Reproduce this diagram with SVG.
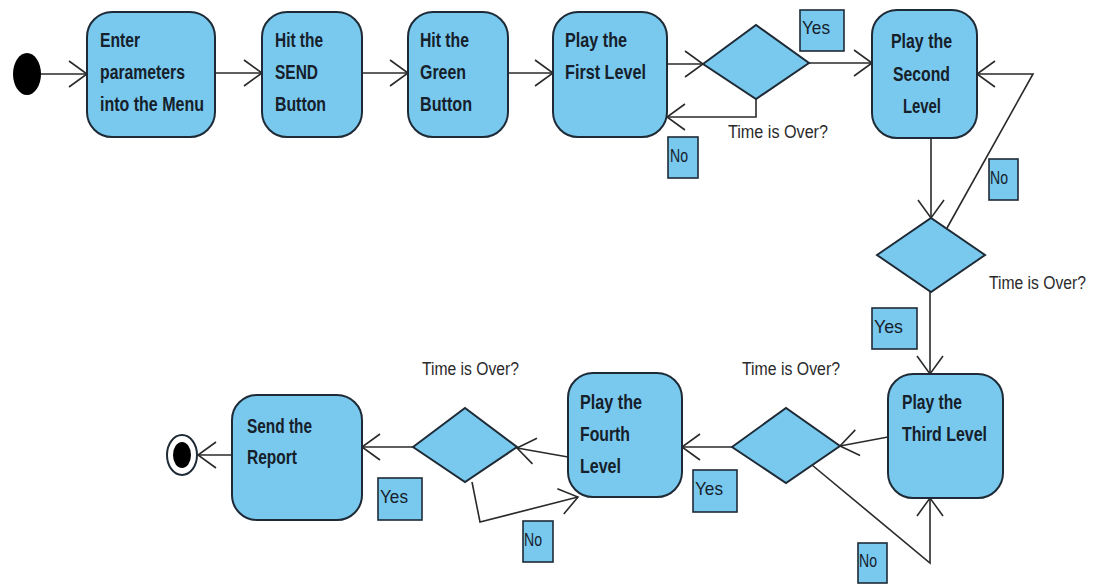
<svg xmlns="http://www.w3.org/2000/svg" width="1097" height="585" viewBox="0 0 1097 585">
<style>
.node{fill:#79c9ef;stroke:#1e2b36;stroke-width:2}
.lbl{fill:#79c9ef;stroke:#1e2b36;stroke-width:1.6}
.nt{font-family:"Liberation Sans",Arial,sans-serif;font-weight:bold;font-size:20px;fill:#15202a}
.lt{font-family:"Liberation Sans",Arial,sans-serif;font-size:19px;fill:#15202a}
.tq{font-family:"Liberation Sans",Arial,sans-serif;font-size:18px;fill:#2a2a2a}
.c{fill:none;stroke:#2a2a2a;stroke-width:1.6}
</style>
<defs>
<marker id="arr" viewBox="-20 -15 22 30" refX="0" refY="0" markerWidth="22" markerHeight="30" markerUnits="userSpaceOnUse" orient="auto">
<path d="M-18,-13 L0,0 L-18,13" fill="none" stroke="#2a2a2a" stroke-width="1.6"/>
</marker>
</defs>
<rect width="1097" height="585" fill="#ffffff"/>
<g id="connectors">
<path class="c" d="M41,74 H87" marker-end="url(#arr)"/>
<path class="c" d="M215,73 H262" marker-end="url(#arr)"/>
<path class="c" d="M362,73 H408" marker-end="url(#arr)"/>
<path class="c" d="M508,73 H553" marker-end="url(#arr)"/>
<path class="c" d="M667,64 H703" marker-end="url(#arr)"/>
<path class="c" d="M809,63 H872" marker-end="url(#arr)"/>
<path class="c" d="M756,99 V117 H667" marker-end="url(#arr)"/>
<path class="c" d="M931,138 V218" marker-end="url(#arr)"/>
<path class="c" d="M947,228 L1033,74 H977" marker-end="url(#arr)"/>
<path class="c" d="M930,292 V374" marker-end="url(#arr)"/>
<path class="c" d="M888,437 L840,446" marker-end="url(#arr)"/>
<path class="c" d="M812,465 L930,563 V498" marker-end="url(#arr)"/>
<path class="c" d="M732,447 H682" marker-end="url(#arr)"/>
<path class="c" d="M568,457 L517,448" marker-end="url(#arr)"/>
<path class="c" d="M472,482 L480,522 L578,497" marker-end="url(#arr)"/>
<path class="c" d="M413,447 H362" marker-end="url(#arr)"/>
<path class="c" d="M232,455 H198" marker-end="url(#arr)"/>
</g>
<g id="start"><ellipse cx="27" cy="74" rx="14" ry="21" fill="#000"/></g>
<g id="n-enter"><rect class="node" x="87" y="12" width="128" height="125" rx="25"/>
<text class="nt" x="100" y="47" textLength="40" lengthAdjust="spacingAndGlyphs">Enter</text><text class="nt" x="100" y="79" textLength="85" lengthAdjust="spacingAndGlyphs">parameters</text><text class="nt" x="100" y="111" textLength="104" lengthAdjust="spacingAndGlyphs">into the Menu</text></g>
<g id="n-send"><rect class="node" x="262" y="12" width="100" height="125" rx="25"/>
<text class="nt" x="275" y="47" textLength="48" lengthAdjust="spacingAndGlyphs">Hit the</text><text class="nt" x="275" y="79" textLength="43" lengthAdjust="spacingAndGlyphs">SEND</text><text class="nt" x="275" y="111" textLength="51" lengthAdjust="spacingAndGlyphs">Button</text></g>
<g id="n-green"><rect class="node" x="408" y="12" width="100" height="125" rx="25"/>
<text class="nt" x="420" y="47" textLength="49" lengthAdjust="spacingAndGlyphs">Hit the</text><text class="nt" x="420" y="79" textLength="46" lengthAdjust="spacingAndGlyphs">Green</text><text class="nt" x="420" y="111" textLength="52" lengthAdjust="spacingAndGlyphs">Button</text></g>
<g id="n-first"><rect class="node" x="553" y="12" width="114" height="125" rx="25"/>
<text class="nt" x="565" y="47" textLength="62" lengthAdjust="spacingAndGlyphs">Play the</text><text class="nt" x="565" y="79" textLength="81" lengthAdjust="spacingAndGlyphs">First Level</text></g>
<g id="d1"><polygon class="node" points="703,64 756,25 809,63 756,99"/></g>
<g id="n-second"><rect class="node" x="872" y="10" width="105" height="128" rx="25"/>
<text class="nt" x="891" y="48" textLength="61" lengthAdjust="spacingAndGlyphs">Play the</text><text class="nt" x="893" y="81" textLength="57" lengthAdjust="spacingAndGlyphs">Second</text><text class="nt" x="903" y="113" textLength="38" lengthAdjust="spacingAndGlyphs">Level</text></g>
<g id="d2"><polygon class="node" points="877,255 931,218 985,255 931,292"/></g>
<g id="n-third"><rect class="node" x="888" y="374" width="115" height="124" rx="25"/>
<text class="nt" x="902" y="409" textLength="60" lengthAdjust="spacingAndGlyphs">Play the</text><text class="nt" x="902" y="441" textLength="85" lengthAdjust="spacingAndGlyphs">Third Level</text></g>
<g id="d3"><polygon class="node" points="732,447 786,408 840,446 786,483"/></g>
<g id="n-fourth"><rect class="node" x="568" y="373" width="114" height="124" rx="25"/>
<text class="nt" x="580" y="409" textLength="62" lengthAdjust="spacingAndGlyphs">Play the</text><text class="nt" x="580" y="441" textLength="50" lengthAdjust="spacingAndGlyphs">Fourth</text><text class="nt" x="580" y="473" textLength="41" lengthAdjust="spacingAndGlyphs">Level</text></g>
<g id="d4"><polygon class="node" points="413,447 465,408 517,447 465,482"/></g>
<g id="n-report"><rect class="node" x="232" y="395" width="130" height="125" rx="25"/>
<text class="nt" x="247" y="433" textLength="65" lengthAdjust="spacingAndGlyphs">Send the</text><text class="nt" x="247" y="464" textLength="50" lengthAdjust="spacingAndGlyphs">Report</text></g>
<g id="end"><ellipse cx="182" cy="455" rx="15" ry="20" fill="#fff" stroke="#1e2b36" stroke-width="2"/><ellipse cx="182" cy="455" rx="9" ry="13" fill="#000"/></g>
<g id="labels">
<rect class="lbl" x="800" y="10" width="44" height="41"/><text class="lt" x="802" y="34" textLength="28" lengthAdjust="spacingAndGlyphs">Yes</text>
<rect class="lbl" x="668" y="137" width="30" height="41"/><text class="lt" x="670" y="162" textLength="18" lengthAdjust="spacingAndGlyphs">No</text>
<rect class="lbl" x="989" y="159" width="29" height="41"/><text class="lt" x="990" y="184" textLength="18" lengthAdjust="spacingAndGlyphs">No</text>
<rect class="lbl" x="872" y="308" width="45" height="41"/><text class="lt" x="874" y="333" textLength="29" lengthAdjust="spacingAndGlyphs">Yes</text>
<rect class="lbl" x="858" y="543" width="29" height="40"/><text class="lt" x="859" y="567" textLength="18" lengthAdjust="spacingAndGlyphs">No</text>
<rect class="lbl" x="693" y="470" width="44" height="42"/><text class="lt" x="695" y="495" textLength="28" lengthAdjust="spacingAndGlyphs">Yes</text>
<rect class="lbl" x="378" y="478" width="44" height="42"/><text class="lt" x="380" y="503" textLength="28" lengthAdjust="spacingAndGlyphs">Yes</text>
<rect class="lbl" x="523" y="521" width="30" height="41"/><text class="lt" x="524" y="546" textLength="18" lengthAdjust="spacingAndGlyphs">No</text>
<text class="tq" x="728" y="138" textLength="100" lengthAdjust="spacingAndGlyphs">Time is Over?</text>
<text class="tq" x="989" y="289" textLength="97" lengthAdjust="spacingAndGlyphs">Time is Over?</text>
<text class="tq" x="742" y="375" textLength="98" lengthAdjust="spacingAndGlyphs">Time is Over?</text>
<text class="tq" x="422" y="375" textLength="97" lengthAdjust="spacingAndGlyphs">Time is Over?</text>
</g>
</svg>
